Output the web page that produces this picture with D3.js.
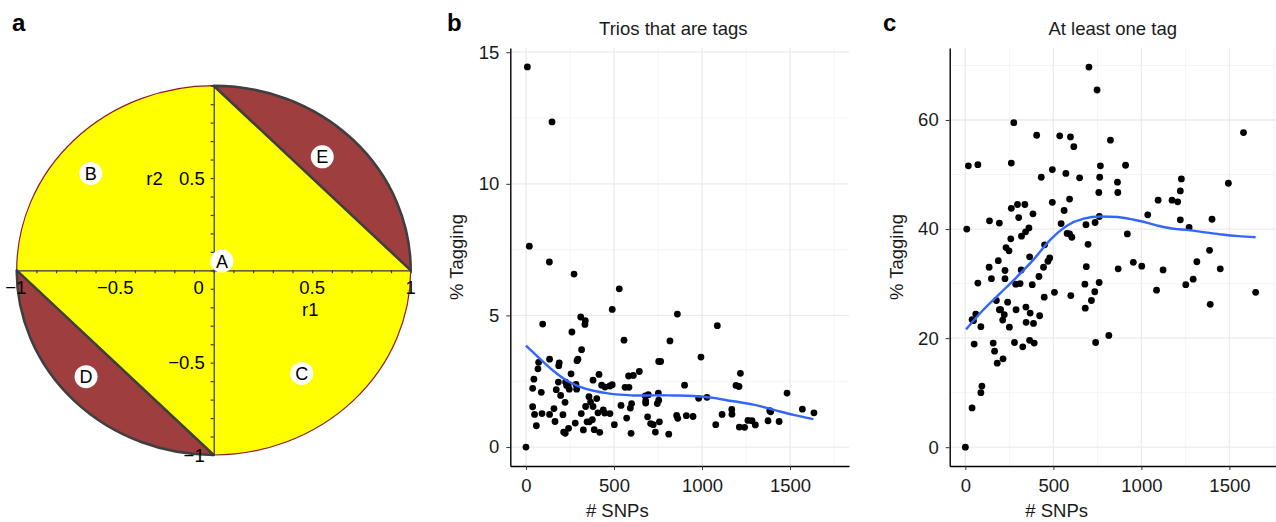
<!DOCTYPE html>
<html>
<head>
<meta charset="utf-8">
<script src="https://cdn.jsdelivr.net/npm/d3@7"></script>
<style>
  body { margin: 0; background: #fff; }
  svg { display: block; font-family: "Liberation Sans", Arial, sans-serif; }
</style>
</head>
<body>
<script>
// ---- panel a: correlation disc ----
const discTicks = [-1, -0.5, 0, 0.5, 1];
const discTickLabels = ["\u22121", "\u22120.5", "0", "0.5", "1"];
const regionIds = ["A", "B", "C", "D", "E"];
const regionR1 = [0.042, -0.624, 0.447, -0.648, 0.551];
const regionR2 = [0.05, 0.525, -0.558, -0.576, 0.615];

// ---- panel b: trios that are tags ----
const bSnps = [0,8,148,19,133,273,530,490,311,337,335,95,860,1087,261,557,818,316,994,134,72,189,295,290,186,68,754,765,644,610,583,256,415,1218,45,381,184,225,240,231,284,430,449,490,477,563,585,901,1193,1210,38,246,288,172,87,1483,752,695,678,197,358,402,981,1028,754,680,746,222,367,680,38,159,339,381,540,600,593,439,1169,1385,1390,1570,49,91,134,210,314,409,447,477,1170,1636,691,856,862,911,949,1114,572,165,280,347,360,377,59,502,708,723,758,1078,1261,1284,1303,1212,1242,1375,1438,214,223,242,326,388,419,597,735,811];
const bTag = [0,14.44,12.35,7.63,7.03,6.57,6.01,5.23,4.94,4.80,4.66,4.67,5.05,4.61,4.37,4.06,4.03,3.70,3.42,3.34,3.22,3.20,3.34,3.28,3.09,2.97,3.25,3.25,2.87,2.72,2.70,2.78,2.76,2.80,2.58,2.54,2.47,2.47,2.37,2.34,2.38,2.35,2.28,2.37,2.32,2.27,2.27,2.35,2.34,2.30,2.23,2.20,2.20,2.18,2.08,2.05,2.05,1.99,1.94,1.96,1.91,1.84,1.85,1.89,1.78,1.75,1.65,1.70,1.71,1.67,1.53,1.46,1.54,1.54,1.58,1.65,1.48,1.41,1.43,1.38,1.34,1.44,1.24,1.27,1.24,1.23,1.27,1.30,1.29,1.27,1.25,1.30,1.15,1.20,1.09,1.19,1.16,1.24,1.10,0.97,0.91,0.96,0.96,1.04,0.81,0.85,0.89,0.85,0.96,0.85,1.01,1.00,0.84,0.76,0.75,1.00,0.97,0.57,0.52,0.71,0.65,0.66,0.56,0.52,0.57,0.49];
const bFitX = [0,80,155,231,307,383,458,534,610,686,761,837,913,989,1064,1140,1216,1292,1367,1443,1519,1633];
const bFitY = [3.85,3.35,2.9,2.53,2.29,2.14,2.05,1.99,1.96,1.96,1.97,1.96,1.95,1.92,1.87,1.78,1.70,1.61,1.49,1.35,1.22,1.06];

// ---- panel c: at least one tag ----
const cSnps = [702,748,275,1580,405,536,597,616,824,17,71,261,767,910,494,571,431,649,763,1227,864,1494,758,866,1221,494,592,1095,1174,1206,261,296,338,561,384,761,303,1036,137,193,544,737,685,1221,1401,8,361,342,319,578,592,605,1271,920,258,231,248,450,697,365,479,469,187,954,1002,1315,1387,135,444,225,317,687,868,1123,1448,148,418,225,760,1294,71,286,311,380,506,448,344,368,288,422,387,345,240,193,200,176,221,212,250,88,38,46,59,50,158,166,181,214,279,326,365,391,94,88,38,0,599,681,735,716,679,1086,1252,1391,1649,815,740];
const cTag = [69.7,65.5,59.5,57.7,57.2,57.1,56.9,55.1,56.3,51.6,51.8,52.1,51.6,51.7,50.9,50.2,49.5,49.4,49.5,49.2,48.6,48.4,46.7,46.7,47.0,44.9,45.5,45.3,45.3,45.0,43.8,44.5,44.5,43.4,42.8,42.3,42.1,42.6,41.5,41.1,41.0,41.2,40.8,41.7,41.8,40.0,40.2,39.5,38.7,39.2,39.1,38.5,40.3,39.1,38.2,36.6,36.0,37.1,37.2,34.9,34.7,34.1,34.2,33.9,33.2,34.0,36.1,33.0,33.0,32.4,32.5,33.1,32.7,32.5,32.7,30.9,31.3,30.9,30.2,30.8,30.1,29.9,30.0,29.8,28.4,27.5,25.7,24.6,25.2,24.1,22.7,22.9,26.6,25.2,25.2,26.9,24.3,23.3,22.0,22.1,23.4,23.2,24.4,18.9,19.1,17.6,15.4,16.2,19.2,18.4,19.6,19.1,11.2,10.0,7.2,0,27.8,25.5,28.5,26.9,29.9,28.8,29.8,26.2,28.4,20.5,19.2];
const cFitX = [4,102,197,292,387,482,577,672,767,862,956,1051,1095,1172,1267,1363,1458,1553,1649];
const cFitY = [21.6,25.2,28.2,31.2,34.4,38.0,40.6,41.9,42.3,42.2,41.7,41.0,40.6,40.1,39.8,39.4,39.0,38.7,38.5];

const snpTicks = [0, 500, 1000, 1500];

const width = 1276, height = 522;
const svg = d3.select("body").append("svg")
    .attr("width", width)
    .attr("height", height)
    .attr("viewBox", [0, 0, width, height]);

// panel letters
svg.selectAll("text.letter")
  .data([["a", 12], ["b", 447], ["c", 883]])
  .join("text")
    .attr("class", "letter")
    .attr("x", d => d[1])
    .attr("y", 31)
    .attr("font-size", 24)
    .attr("font-weight", "bold")
    .text(d => d[0]);

// ================= panel a =================
const xA = d3.scaleLinear().domain([-1, 1]).range([16.7, 410.7]);
const yA = d3.scaleLinear().domain([-1, 1]).range([455, 85.7]);
const rx = (xA(1) - xA(-1)) / 2, ry = (yA(-1) - yA(1)) / 2;
const gA = svg.append("g");

gA.append("ellipse")
    .attr("cx", xA(0)).attr("cy", yA(0))
    .attr("rx", rx).attr("ry", ry)
    .attr("fill", "#ffff00")
    .attr("stroke", "#8b1a2a")
    .attr("stroke-width", 1.2);

// red segments cut off by the chords
gA.append("path")
    .attr("d", `M${xA(0)},${yA(1)} A${rx},${ry} 0 0 1 ${xA(1)},${yA(0)} Z`)
    .attr("fill", "#9e3e3e").attr("stroke", "#3f3f3f").attr("stroke-width", 2.6)
    .attr("stroke-linejoin", "round");
gA.append("path")
    .attr("d", `M${xA(-1)},${yA(0)} A${rx},${ry} 0 0 0 ${xA(0)},${yA(-1)} Z`)
    .attr("fill", "#9e3e3e").attr("stroke", "#3f3f3f").attr("stroke-width", 2.6)
    .attr("stroke-linejoin", "round");

const axisColor = "#34344e";
gA.append("g")
    .attr("transform", `translate(0,${yA(0)})`)
    .call(d3.axisBottom(xA).ticks(20).tickSize(3).tickSizeOuter(0).tickFormat(""))
    .call(g => g.selectAll("line,path").attr("stroke", axisColor).attr("stroke-width", 1.2));
gA.append("g")
    .attr("transform", `translate(${xA(0)},0)`)
    .call(d3.axisLeft(yA).ticks(20).tickSize(3).tickSizeOuter(0).tickFormat(""))
    .call(g => g.selectAll("line,path").attr("stroke", axisColor).attr("stroke-width", 1.2));

// x tick labels (the 0 sits left of the vertical axis)
gA.selectAll("text.xl")
  .data(discTicks)
  .join("text")
    .attr("class", "xl")
    .attr("x", d => d === 0 ? xA(0) - 15 : xA(d) + (d === -1 ? -1 : 0))
    .attr("y", yA(0) + 24)
    .attr("text-anchor", "middle")
    .attr("font-size", 18.5)
    .text((d, i) => discTickLabels[i]);

// y tick labels
gA.selectAll("text.yl")
  .data(discTicks.filter(d => d !== 0 && d !== 1))
  .join("text")
    .attr("class", "yl")
    .attr("x", xA(0) - 9)
    .attr("y", d => yA(d))
    .attr("dy", "0.36em")
    .attr("text-anchor", "end")
    .attr("font-size", 18.5)
    .text(d => discTickLabels[discTicks.indexOf(d)]);

gA.append("text")
    .attr("x", xA(-0.3)).attr("y", yA(0.5)).attr("dy", "0.36em")
    .attr("text-anchor", "middle").attr("font-size", 18.5).text("r2");
gA.append("text")
    .attr("x", xA(0.49)).attr("y", yA(-0.21)).attr("dy", "0.36em")
    .attr("text-anchor", "middle").attr("font-size", 18.5).text("r1");

const region = gA.selectAll("g.region")
  .data(regionIds)
  .join("g")
    .attr("class", "region")
    .attr("transform", (d, i) => `translate(${xA(regionR1[i])},${yA(regionR2[i])})`);
region.append("circle").attr("r", 11.5).attr("fill", "#fff");
region.append("text")
    .attr("text-anchor", "middle").attr("dy", "0.36em")
    .attr("font-size", 18).text(d => d);

// ================= scatter panels =================
function scatter(opt) {
  const x = d3.scaleLinear().domain([-89, 1835]).range([opt.left, opt.left + 338.7]);
  const y = d3.scaleLinear().domain(opt.yDomain).range([466, 48]);
  const g = svg.append("g");

  // grid
  g.selectAll("line.vmin").data(opt.xMinor).join("line")
      .attr("x1", x).attr("x2", x).attr("y1", 48).attr("y2", 466)
      .attr("stroke", "#f3f3f3").attr("stroke-width", 0.8);
  g.selectAll("line.hmin").data(opt.yMinor).join("line")
      .attr("y1", y).attr("y2", y).attr("x1", opt.left).attr("x2", opt.left + 338.7)
      .attr("stroke", "#f3f3f3").attr("stroke-width", 0.8);
  g.selectAll("line.vmaj").data(snpTicks).join("line")
      .attr("x1", x).attr("x2", x).attr("y1", 48).attr("y2", 466)
      .attr("stroke", "#ebebeb").attr("stroke-width", 1.3);
  g.selectAll("line.hmaj").data(opt.yTicks).join("line")
      .attr("y1", y).attr("y2", y).attr("x1", opt.left).attr("x2", opt.left + 338.7)
      .attr("stroke", "#ebebeb").attr("stroke-width", 1.3);

  // points
  g.selectAll("circle").data(d3.zip(opt.xs, opt.ys)).join("circle")
      .attr("cx", d => x(d[0])).attr("cy", d => y(d[1]))
      .attr("r", 3.4).attr("fill", "#000");

  // smooth
  g.append("path")
      .datum(d3.zip(opt.fitX, opt.fitY))
      .attr("fill", "none").attr("stroke", "#3366ff").attr("stroke-width", 2.4)
      .attr("d", d3.line().x(d => x(d[0])).y(d => y(d[1])).curve(d3.curveMonotoneX));

  // axes
  g.append("g")
      .attr("transform", "translate(0,466)")
      .call(d3.axisBottom(x).tickValues(snpTicks).tickFormat(d3.format("d"))
              .tickSize(4).tickSizeOuter(0).tickPadding(9))
      .call(a => a.selectAll("text").attr("font-size", 18.5).attr("fill", "#1a1a1a").attr("font-family", null))
      .call(a => a.select(".domain").attr("stroke-width", 1.4))
      .call(a => a.selectAll(".tick line").attr("stroke", "#333"));
  g.append("g")
      .attr("transform", `translate(${opt.left},0)`)
      .call(d3.axisLeft(y).tickValues(opt.yTicks).tickFormat(d3.format("d"))
              .tickSize(4).tickSizeOuter(0).tickPadding(7))
      .call(a => a.selectAll("text").attr("font-size", 18.5).attr("fill", "#1a1a1a").attr("font-family", null))
      .call(a => a.select(".domain").attr("stroke-width", 1.4))
      .call(a => a.selectAll(".tick line").attr("stroke", "#333"));

  g.append("text")
      .attr("x", opt.left + 163).attr("y", 35)
      .attr("text-anchor", "middle").attr("font-size", 18.5).attr("fill", "#1a1a1a")
      .text(opt.title);
  g.append("text")
      .attr("x", opt.left + 107).attr("y", 517)
      .attr("text-anchor", "middle").attr("font-size", 18.5).attr("fill", "#1a1a1a")
      .text("# SNPs");
  g.append("text")
      .attr("transform", `translate(${opt.left - 47},257) rotate(-90)`)
      .attr("text-anchor", "middle").attr("font-size", 18.5).attr("fill", "#1a1a1a")
      .text("% Tagging");
}

scatter({
  left: 510.3, title: "Trios that are tags",
  yDomain: [-0.72, 15.16], yTicks: [0, 5, 10, 15], yMinor: [2.5, 7.5, 12.5],
  xMinor: [250, 750, 1250, 1750],
  xs: bSnps, ys: bTag, fitX: bFitX, fitY: bFitY
});
scatter({
  left: 949.7, title: "At least one tag",
  yDomain: [-3.45, 73.2], yTicks: [0, 20, 40, 60], yMinor: [10, 30, 50, 70],
  xMinor: [250, 750, 1250, 1750],
  xs: cSnps, ys: cTag, fitX: cFitX, fitY: cFitY
});
</script>
</body>
</html>
